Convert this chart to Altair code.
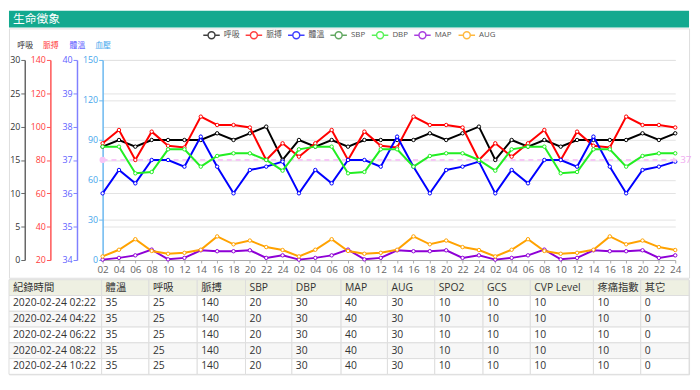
import json
import altair as alt
import pandas as pd

# ---------------- data ----------------
panel_title = "生命徵象"
x_labels = ["02", "04", "06", "08", "10", "12", "14", "16", "18", "20", "22", "24",
            "02", "04", "06", "08", "10", "12", "14", "16", "18", "20", "22", "24",
            "02", "04", "06", "08", "10", "12", "14", "16", "18", "20", "22", "24"]

resp = [17, 18, 17, 18, 18, 18, 18, 19, 18, 19, 20, 15, 18,
        17, 18, 17, 18, 18, 18, 18, 19, 18, 19, 20, 15, 18,
        17, 18, 17, 18, 18, 18, 18, 19, 18, 19]
pulse = [90, 98, 80, 97, 88.5, 87.5, 106, 101, 101, 99.5, 80, 90, 82,
         90, 98, 80, 97, 88.5, 87.5, 106, 101, 101, 99.5, 80, 90, 82,
         90, 98, 80, 97, 88.5, 87.5, 106, 101, 101, 99.5]
temp = [36.0, 36.7, 36.3, 37.0, 37.0, 36.8, 37.7, 36.8, 36.0, 36.7, 36.8, 36.95,
        36.0, 36.7, 36.3, 37.0, 37.0, 36.8, 37.7, 36.8, 36.0, 36.7, 36.8, 36.95,
        36.0, 36.7, 36.3, 37.0, 37.0, 36.8, 37.7, 36.8, 36.0, 36.7, 36.8, 36.95]
sbp = []
dbp = [85, 85, 65, 66, 83, 83, 70, 78, 80, 80, 75, 67, 83,
       85, 85, 65, 66, 83, 83, 70, 78, 80, 80, 75, 67, 83,
       85, 85, 65, 66, 83, 83, 70, 78, 80, 80]
mapv = [0.3, 1.6, 3.5, 7.8, 0.5, 1.6, 7.3, 6.6, 6.6, 7.3, 1.6, 3.5,
        0.3, 1.6, 3.5, 7.8, 0.5, 1.6, 7.3, 6.6, 6.6, 7.3, 1.6, 3.5,
        0.3, 1.6, 3.5, 7.8, 0.5, 1.6, 7.3, 6.6, 6.6, 7.3, 1.6, 3.5]
aug = [2.7, 7.7, 15.6, 6.8, 4.7, 5.4, 7.7, 17.7, 11.8, 14.6, 9.7, 7.5,
       2.7, 7.7, 15.6, 6.8, 4.7, 5.4, 7.7, 17.7, 11.8, 14.6, 9.7, 7.5,
       2.7, 7.7, 15.6, 6.8, 4.7, 5.4, 7.7, 17.7, 11.8, 14.6, 9.7, 7.5]
temp_mark = 37

series_names = ["呼吸", "脈搏", "體溫", "SBP", "DBP", "MAP", "AUG"]
series_colors = ["#000000", "#ff0000", "#0000ff", "#2e8b2e", "#22ee22", "#8e00d6", "#ffa200"]

table_header = ["紀錄時間", "體溫", "呼吸", "脈搏", "SBP", "DBP", "MAP", "AUG",
                "SPO2", "GCS", "CVP Level", "疼痛指數", "其它"]
t_time = ["2020-02-24 02:22", "2020-02-24 04:22", "2020-02-24 06:22",
          "2020-02-24 08:22", "2020-02-24 10:22"]
t_temp = [35, 35, 35, 35, 35]
t_resp = [25, 25, 25, 25, 25]
t_pulse = [140, 140, 140, 140, 140]
t_sbp = [20, 20, 20, 20, 20]
t_dbp = [30, 30, 30, 30, 30]
t_map = [40, 40, 40, 40, 40]
t_aug = [30, 30, 30, 30, 30]
t_spo2 = [10, 10, 10, 10, 10]
t_gcs = [10, 10, 10, 10, 10]
t_cvp = [10, 10, 10, 10, 10]
t_pain = [10, 10, 10, 10, 10]
t_other = [0, 0, 0, 0, 0]

# ---------------- layout (pixels) ----------------
W = 690
col_edges = [0, 94, 142, 191, 240, 287, 337, 384, 432, 481, 529, 593, 641, 690]
FONT = "Open Sans, Noto Sans CJK TC"

idx = list(range(len(x_labels)))

X = alt.X("idx:Q",
          scale=alt.Scale(domain=[0, len(x_labels) - 1], range=[95, 676], nice=False, zero=False),
          axis=alt.Axis(values=idx, labelExpr=f"{json.dumps(x_labels)}[datum.value]",
                        offset=-18, grid=False, title=None, domainColor="#aaaaaa",
                        tickColor="#aaaaaa", tickSize=3, labelColor="#666666",
                        labelFontSize=10, labelPadding=2, labelFlush=False,
                        labelOverlap=False))

legend_symbol = ("M-1,0L-0.42,0M0.42,0L1,0M0.42,0A0.42,0.42,0,1,1,-0.42,0"
                 "A0.42,0.42,0,1,1,0.42,0Z")
color_enc = alt.Color(
    "series:N",
    scale=alt.Scale(domain=series_names, range=series_colors),
    legend=alt.Legend(orient="none", legendX=196, legendY=15, direction="horizontal",
                      title=None, labelFontSize=8, labelColor="#555555",
                      symbolType=legend_symbol, symbolSize=280, symbolStrokeWidth=1.5,
                      symbolFillColor="white", symbolOpacity=0.75, columnPadding=3,
                      labelOffset=3, padding=0))

YR = [235, 32]


def left_axis(title, dom_color, lab_color, offset, values, grid):
    return alt.Axis(orient="left", offset=offset, values=values, title=title,
                    titleAngle=0, titleX=0, titleY=17, titleAlign="center",
                    titleBaseline="middle", titleColor=lab_color, titleFontSize=8,
                    titleFontWeight="normal", domainColor=dom_color, domainWidth=1.5,
                    tickColor=dom_color, tickSize=4, labelColor=lab_color,
                    labelFontSize=9, labelPadding=1, labelFlush=False,
                    labelOverlap=False, grid=grid, gridColor="#e3e3e3", gridWidth=1)


line_kw = dict(strokeWidth=2,
               point=alt.OverlayMarkDef(filled=False, fill="white", size=12, strokeWidth=1))

df_resp = pd.DataFrame({"idx": idx, "v": resp, "series": "呼吸"})
df_pulse = pd.DataFrame({"idx": idx, "v": pulse, "series": "脈搏"})
df_temp = pd.DataFrame({"idx": idx, "v": temp, "series": "體溫"})
bp_rows = []
for name, vals in [("SBP", sbp), ("DBP", dbp), ("MAP", mapv), ("AUG", aug)]:
    for i, v in enumerate(vals):
        bp_rows.append({"idx": i, "v": v, "series": name})
df_bp = pd.DataFrame(bp_rows)

Y_resp = alt.Y("v:Q", scale=alt.Scale(domain=[0, 30], range=YR, nice=False, zero=False),
               axis=left_axis("呼吸", "#666666", "#333333", -16, [0, 5, 10, 15, 20, 25, 30], True))
Y_pulse = alt.Y("v:Q", scale=alt.Scale(domain=[20, 140], range=YR, nice=False, zero=False),
                axis=left_axis("脈搏", "#ff5555", "#ff3b3b", -42,
                               [20, 40, 60, 80, 100, 120, 140], False))
Y_temp = alt.Y("v:Q", scale=alt.Scale(domain=[34, 40], range=YR, nice=False, zero=False),
               axis=left_axis("體溫", "#8080ff", "#6060ff", -69,
                              [34, 35, 36, 37, 38, 39, 40], False))
Y_bp = alt.Y("v:Q", scale=alt.Scale(domain=[0, 150], range=YR, nice=False, zero=False),
             axis=left_axis("血壓", "#6ab8f0", "#46a6ec", -95, [0, 30, 60, 90, 120, 150], True))

df_mark_start = pd.DataFrame({"idx": [idx[0]], "idx_end": [idx[-1]], "v": [temp_mark]})
df_mark_end = pd.DataFrame({"idx": [idx[-1]], "v": [temp_mark], "lab": [str(temp_mark)]})
PINK = "#f6c6f6"

rule = alt.Chart(df_mark_start).mark_rule(color=PINK, strokeWidth=2, strokeDash=[5, 4]).encode(
    x=X, x2=alt.X2("idx_end:Q"),
    y=alt.Y("v:Q", scale=alt.Scale(domain=[34, 40], range=YR, nice=False, zero=False), axis=None))

l_resp = alt.Chart(df_resp).mark_line(**line_kw).encode(x=X, y=Y_resp, color=color_enc)
l_pulse = alt.Chart(df_pulse).mark_line(**line_kw).encode(x=X, y=Y_pulse, color=color_enc)
temp_group = alt.layer(
    alt.Chart(df_temp).mark_line(**line_kw).encode(x=X, y=Y_temp, color=color_enc),
    alt.Chart(df_mark_start).mark_point(filled=True, size=40, color=PINK, opacity=1).encode(
        x=X, y=Y_temp),
    alt.Chart(df_mark_end).mark_point(shape="triangle-right", filled=True, size=30,
                                      color=PINK, opacity=1).encode(x=X, y=Y_temp),
    alt.Chart(df_mark_end).mark_text(align="left", dx=5, fontSize=10, color="#f0aaf0").encode(
        x=X, y=Y_temp, text="lab:N"),
)
l_bp = alt.Chart(df_bp).mark_line(**line_kw).encode(
    x=X, y=Y_bp, color=color_enc, detail="series:N")

main = alt.layer(rule, l_resp, l_pulse, temp_group, l_bp).resolve_scale(
    y="independent").properties(width=W, height=253)

# ---------------- header ----------------
header = alt.Chart(pd.DataFrame({"t": [panel_title]})).mark_text(
    align="left", baseline="middle", color="white", fontSize=12).encode(
    x=alt.value(4), y=alt.value(9), text="t:N").properties(
    width=W, height=17, view=alt.ViewBackground(fill="#13a98f", strokeWidth=0))

# ---------------- table ----------------
table_cols = [t_time, t_temp, t_resp, t_pulse, t_sbp, t_dbp, t_map, t_aug,
              t_spo2, t_gcs, t_cvp, t_pain, t_other]
cells = []
for c, name in enumerate(table_header):
    cells.append({"row": 0, "x0": col_edges[c], "x1": col_edges[c + 1],
                  "text": name, "bg": "#eef0e2"})
for r in range(len(t_time)):
    for c, col in enumerate(table_cols):
        cells.append({"row": r + 1, "x0": col_edges[c], "x1": col_edges[c + 1],
                      "text": str(col[r]),
                      "bg": "#f7f7f7" if (r + 1) % 2 == 0 else "#ffffff"})
df_cells = pd.DataFrame(cells)

xs_tab = alt.Scale(domain=[0, W], range=[0, W], nice=False, zero=False)
ys_tab = alt.Scale(paddingInner=0, paddingOuter=0)
table = alt.layer(
    alt.Chart(df_cells).mark_rect(stroke="#dddddd", strokeWidth=1).encode(
        x=alt.X("x0:Q", scale=xs_tab, axis=None), x2="x1:Q",
        y=alt.Y("row:O", scale=ys_tab, axis=None),
        fill=alt.Fill("bg:N", scale=None)),
    alt.Chart(df_cells).mark_text(align="left", dx=4, fontSize=10.5, color="#333333").encode(
        x=alt.X("x0:Q", scale=xs_tab, axis=None),
        y=alt.Y("row:O", scale=ys_tab, axis=None),
        text="text:N"),
).properties(width=W, height=96)

chart = alt.vconcat(header, main, table, spacing=0).properties(padding=0).configure_view(
    strokeWidth=0).configure(font=FONT)

chart.save("out.html", embed_options={"renderer": "svg", "actions": False})
